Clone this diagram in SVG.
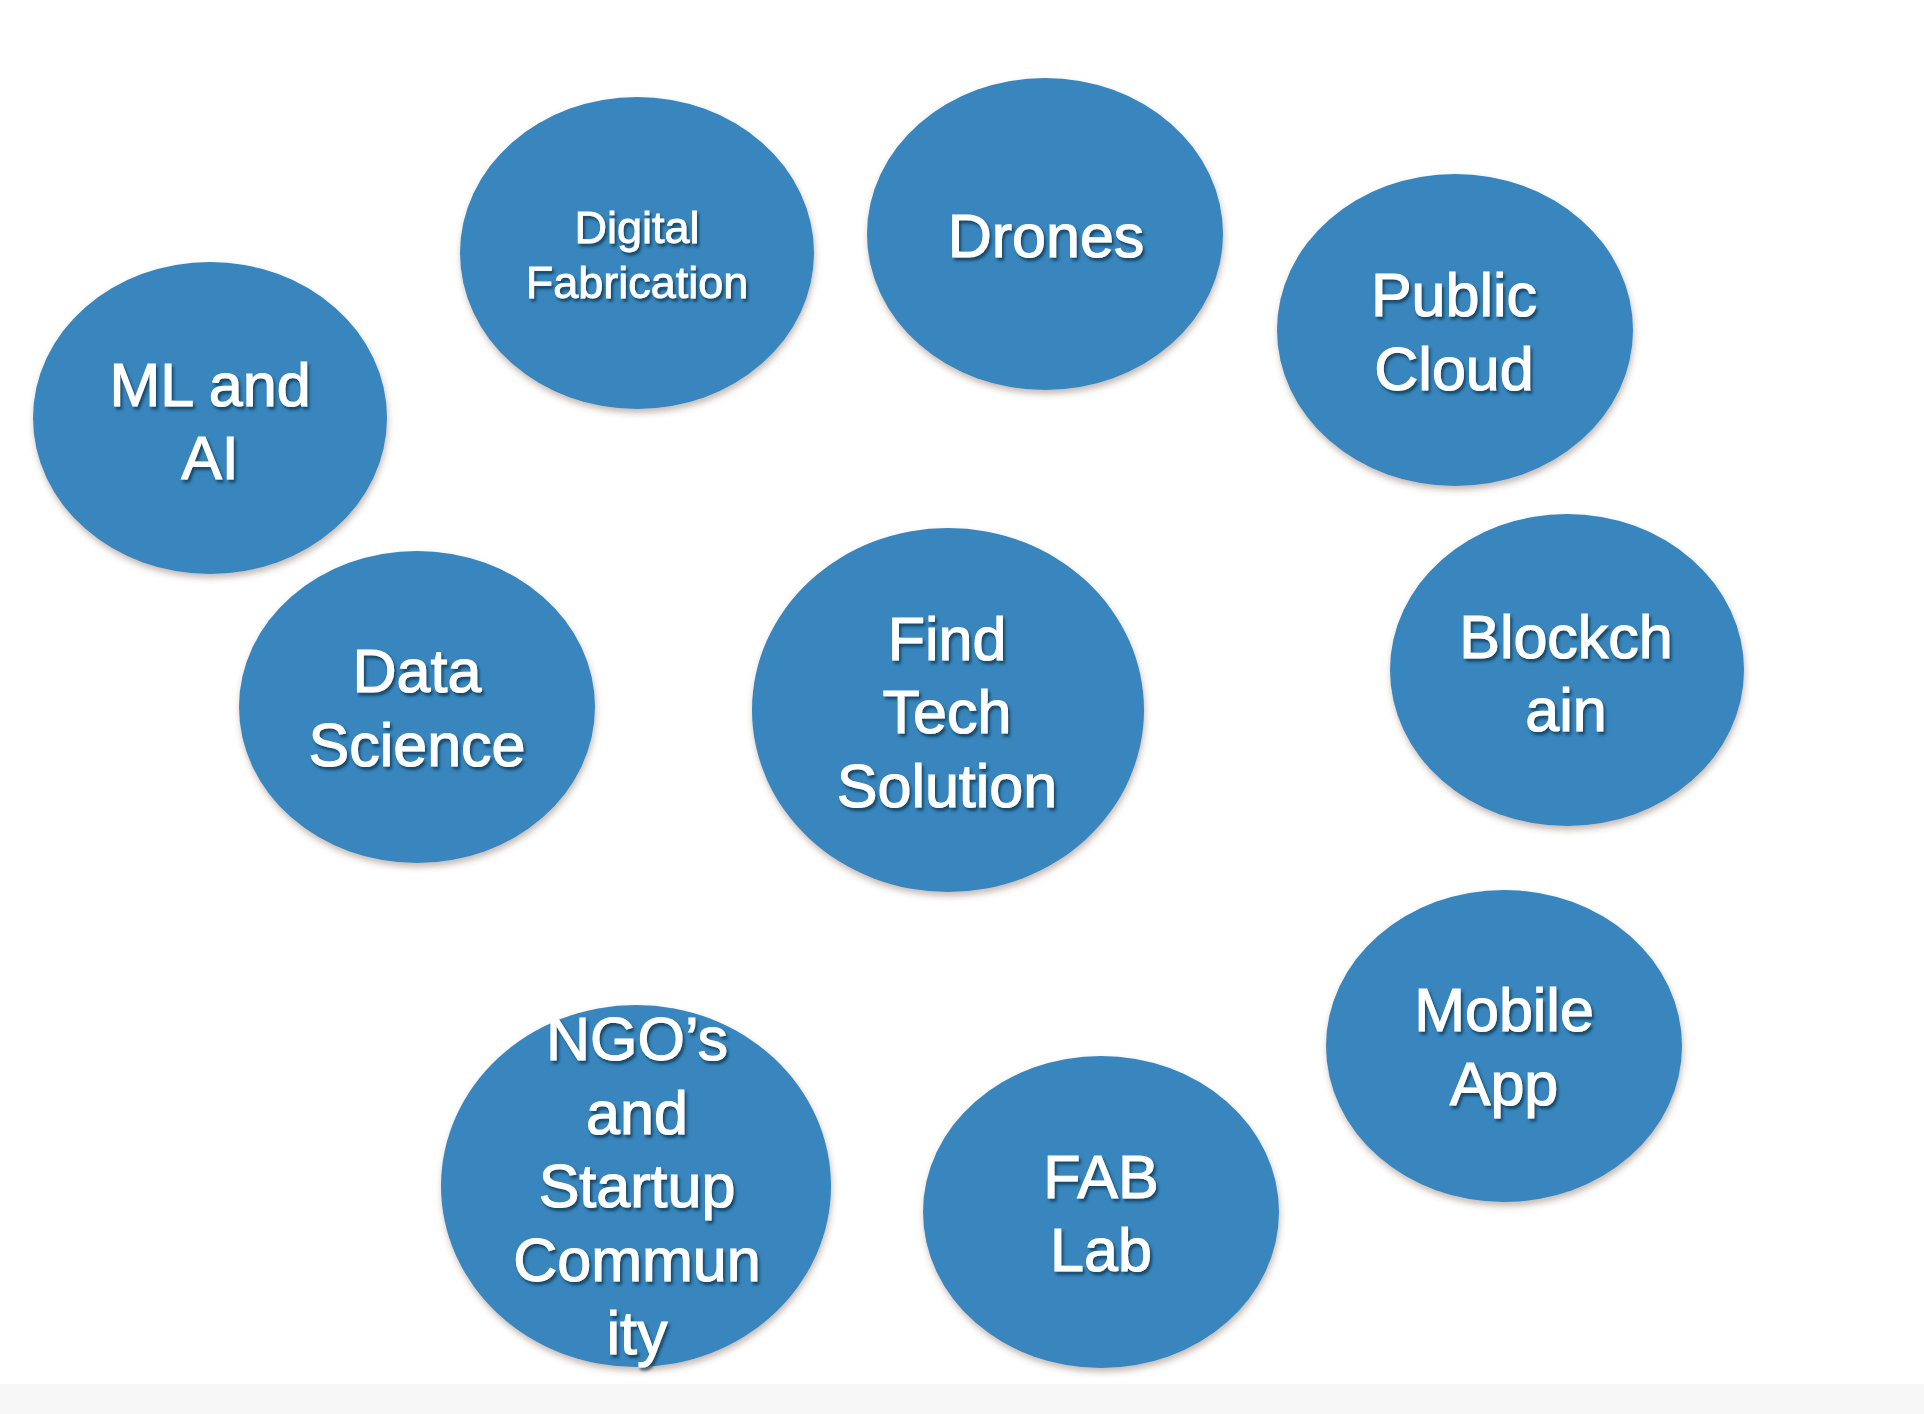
<svg xmlns="http://www.w3.org/2000/svg" width="1924" height="1414" viewBox="0 0 1924 1414">
  <defs>
    <filter id="eshadow" x="-10%" y="-10%" width="125%" height="125%">
      <feGaussianBlur in="SourceAlpha" stdDeviation="3"/>
      <feOffset dx="1" dy="4" result="b"/>
      <feFlood flood-color="#5a3a2a" flood-opacity="0.35"/>
      <feComposite in2="b" operator="in"/>
      <feMerge><feMergeNode/><feMergeNode in="SourceGraphic"/></feMerge>
    </filter>
    <filter id="tshadow" x="-10%" y="-20%" width="120%" height="150%">
      <feGaussianBlur in="SourceAlpha" stdDeviation="1.5"/>
      <feOffset dx="1.5" dy="2.5" result="b"/>
      <feFlood flood-color="#0b2a40" flood-opacity="0.7"/>
      <feComposite in2="b" operator="in"/>
      <feMerge><feMergeNode/><feMergeNode in="SourceGraphic"/></feMerge>
    </filter>
  </defs>
  <style>
    .bubble { fill: #3886bd; filter: url(#eshadow); }
    .lbl { fill: #ffffff; stroke: #ffffff; stroke-width: 1.1px; font-family: "Liberation Sans", Arial, Helvetica, sans-serif; font-size: 61px; text-anchor: middle; filter: url(#tshadow); }
    .small { font-size: 45px; stroke-width: 0.8px; }
  </style>
  <rect x="0" y="0" width="1924" height="1414" fill="#ffffff"/>
  <rect x="0" y="1384" width="1924" height="30" fill="#f7f7f7"/>

  <g id="connectors"></g>

  <g id="ml-ai">
    <ellipse class="bubble" cx="210" cy="418" rx="177" ry="156"/>
    <text class="lbl" x="210" y="406">ML and</text>
    <text class="lbl" x="210" y="479">AI</text>
  </g>

  <g id="digital-fabrication">
    <ellipse class="bubble" cx="637" cy="253" rx="177" ry="156"/>
    <text class="lbl small" x="637" y="243">Digital</text>
    <text class="lbl small" x="637" y="298">Fabrication</text>
  </g>

  <g id="drones">
    <ellipse class="bubble" cx="1045" cy="234" rx="178" ry="156"/>
    <text class="lbl" x="1046" y="257">Drones</text>
  </g>

  <g id="public-cloud">
    <ellipse class="bubble" cx="1455" cy="330" rx="178" ry="156"/>
    <text class="lbl" x="1454" y="316">Public</text>
    <text class="lbl" x="1454" y="390">Cloud</text>
  </g>

  <g id="blockchain">
    <ellipse class="bubble" cx="1567" cy="670" rx="177" ry="156"/>
    <text class="lbl" x="1566" y="658">Blockch</text>
    <text class="lbl" x="1566" y="731">ain</text>
  </g>

  <g id="data-science">
    <ellipse class="bubble" cx="417" cy="707" rx="178" ry="156"/>
    <text class="lbl" x="417" y="692">Data</text>
    <text class="lbl" x="417" y="766">Science</text>
  </g>

  <g id="find-tech-solution">
    <ellipse class="bubble" cx="948" cy="710" rx="196" ry="182"/>
    <text class="lbl" x="947" y="660">Find</text>
    <text class="lbl" x="947" y="733">Tech</text>
    <text class="lbl" x="947" y="807">Solution</text>
  </g>

  <g id="mobile-app">
    <ellipse class="bubble" cx="1504" cy="1046" rx="178" ry="156"/>
    <text class="lbl" x="1504" y="1031">Mobile</text>
    <text class="lbl" x="1504" y="1105">App</text>
  </g>

  <g id="fab-lab">
    <ellipse class="bubble" cx="1101" cy="1212" rx="178" ry="156"/>
    <text class="lbl" x="1101" y="1198">FAB</text>
    <text class="lbl" x="1101" y="1271">Lab</text>
  </g>

  <g id="ngos-startup">
    <ellipse class="bubble" cx="636" cy="1186" rx="195" ry="181"/>
    <text class="lbl" x="637" y="1060">NGO’s</text>
    <text class="lbl" x="637" y="1134">and</text>
    <text class="lbl" x="637" y="1207">Startup</text>
    <text class="lbl" x="637" y="1281">Commun</text>
    <text class="lbl" x="637" y="1354">ity</text>
  </g>
</svg>
